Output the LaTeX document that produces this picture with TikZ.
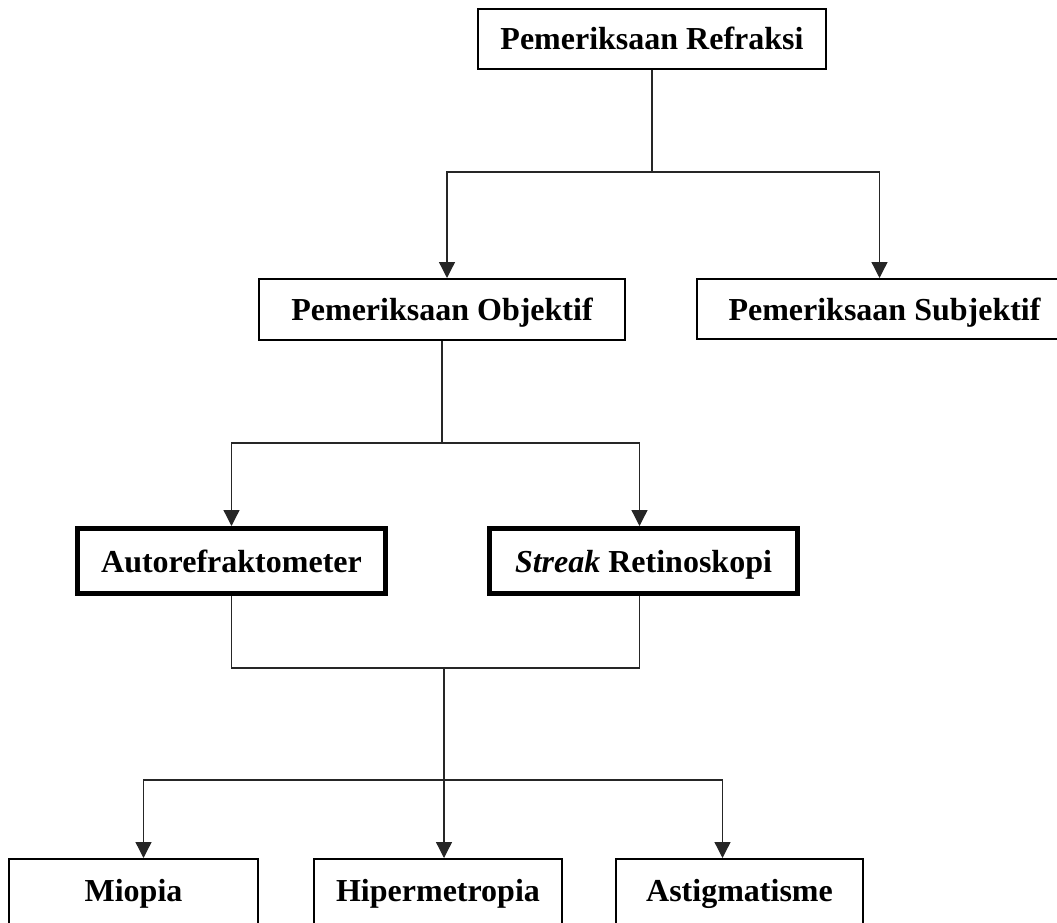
\documentclass[tikz,border=0pt]{standalone}
\usepackage{fontspec}
\setmainfont{Liberation Serif}
\usetikzlibrary{arrows.meta}
\tikzset{
  box/.style={draw, line width=2pt, inner sep=0pt, minimum height=60pt,
    font=\bfseries\fontsize{32}{38}\selectfont, text height=29pt, text depth=7pt},
  thickbox/.style={box, line width=5pt, minimum height=65pt},
  lowbox/.style={box, minimum height=80pt, text depth=25pt},
  link/.style={line width=1.3pt, black!85},
  arr/.style={link, -{Triangle[length=16pt,width=16pt]}}
}
\begin{document}
\begin{tikzpicture}[x=1pt,y=-1pt]
    \clip (0,0) rectangle (1057,923);
    % boxes
    \node[box,minimum width=348pt] (refraksi) at (652,39) {Pemeriksaan Refraksi};
    \node[box,minimum width=366pt,minimum height=61pt] (objektif) at (442,309.5) {Pemeriksaan Objektif};
    \node[box,minimum width=375pt] (subjektif) at (884.5,309) {Pemeriksaan Subjektif};
    \node[thickbox,minimum width=308pt] (autoref) at (231.5,561) {Autorefraktometer};
    \node[thickbox,minimum width=308pt] (streak) at (643.5,561) {\textit{Streak} Retinoskopi};
    \node[lowbox,minimum width=249pt] (miopia) at (133.5,899) {Miopia};
    \node[lowbox,minimum width=248pt] (hiper) at (438,899) {Hipermetropia};
    \node[lowbox,minimum width=247pt] (astig) at (739.5,899) {Astigmatisme};
    % junctions
    \coordinate (j1) at (652,172);
    \coordinate (j2) at (442,443);
    \coordinate (j3) at (444,668);
    \coordinate (j4) at (444,780);
    % connectors
    \draw[link] (refraksi.south) -- (j1);
    \draw[arr] (j1) -| ([xshift=5pt]objektif.north);
    \draw[arr] (j1) -| ([xshift=-5pt]subjektif.north);
    \draw[link] (objektif.south) -- (j2);
    \draw[arr] (j2) -| (autoref.north);
    \draw[arr] (j2) -| ([xshift=-4pt]streak.north);
    \draw[link] (autoref.south) -- ++(0,72) -| ([xshift=-4pt]streak.south);
    \draw[link] (j3) -- (j4);
    \draw[arr] (j4) -| ([xshift=10pt]miopia.north);
    \draw[arr] (j4) -- ([xshift=6pt]hiper.north);
    \draw[arr] (j4) -| ([xshift=-17pt]astig.north);
  \end{tikzpicture}
\end{document}
